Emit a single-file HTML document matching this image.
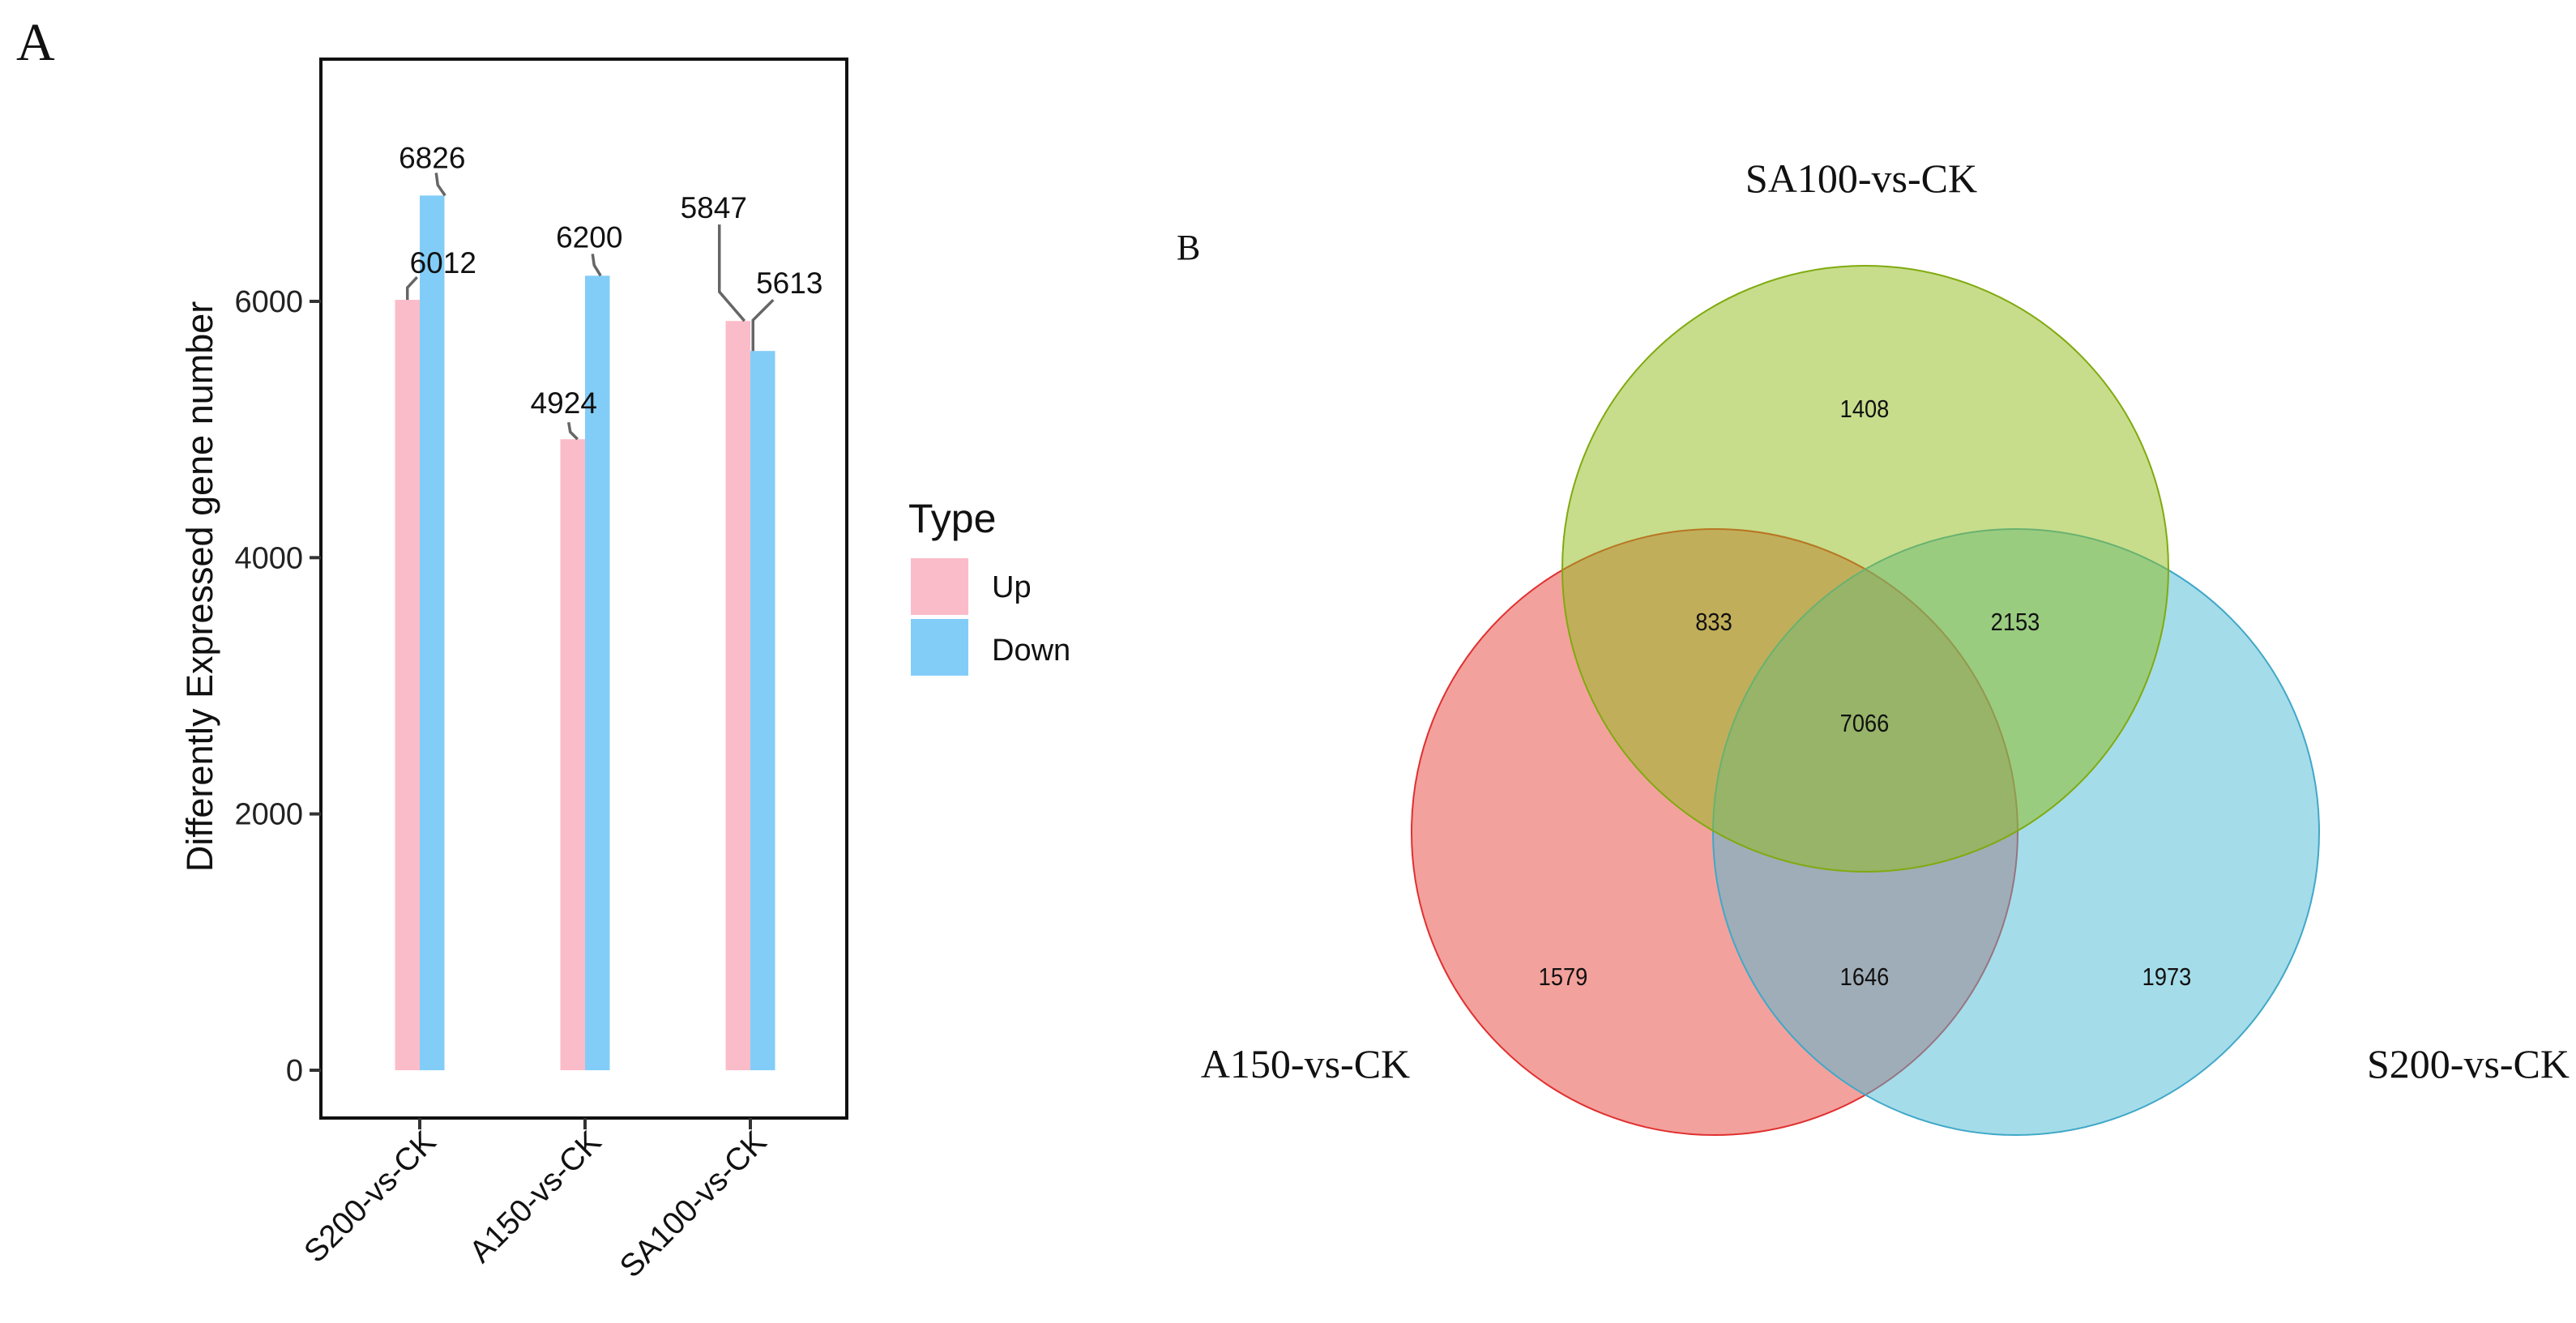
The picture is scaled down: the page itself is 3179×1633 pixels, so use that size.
<!DOCTYPE html>
<html><head><meta charset="utf-8"><style>
html,body{margin:0;padding:0;background:#fff;}
svg{display:block;}
.s{font-family:"Liberation Sans",sans-serif;}
.r{font-family:"Liberation Serif",serif;}
</style></head><body>
<svg id="fig" width="3179" height="1633" viewBox="0 0 3179 1633" xmlns="http://www.w3.org/2000/svg">
<rect width="3179" height="1633" fill="#fff"/>
<text x="20" y="74" class="r" font-size="66" fill="#111">A</text>
<g id="barchart"></g>
<text x="1452" y="320" class="r" font-size="44" fill="#111">B</text>
<g id="venn"></g>
</svg>
<script>
const categories = ["S200-vs-CK","A150-vs-CK","SA100-vs-CK"];
const upValues = [6012, 4924, 5847];
const downValues = [6826, 6200, 5613];
const yTicks = [0, 2000, 4000, 6000];
const vennSets = ["A150-vs-CK","S200-vs-CK","SA100-vs-CK"];
const vennCounts = {a:1579, b:1973, c:1408, ac:833, bc:2153, ab:1646, abc:7066};

const NS="http://www.w3.org/2000/svg";
function mk(tag, attrs, parent, text){
  const e=document.createElementNS(NS,tag);
  for(const k in attrs) e.setAttribute(k,attrs[k]);
  if(text!==undefined) e.textContent=text;
  parent.appendChild(e); return e;
}
const bc=document.getElementById('barchart');
const y0=1321, pxPer=0.15817;
const yS=v=>y0-v*pxPer;
const xS=i=>518+i*204;
const bw=30.5;

// frame
const frame=mk('rect',{x:396,y:73,width:649,height:1307,fill:'none',stroke:'#111','stroke-width':4},bc);



yTicks.forEach(t=>{
  const l=mk('line',{x1:382,x2:396,y1:yS(t),y2:yS(t),stroke:'#333','stroke-width':4},bc);
  
  
  const tx=mk('text',{x:374,y:yS(t)+13,'text-anchor':'end','font-size':38,fill:'#222',class:'s'},bc,String(t));
  
  
});
const yt=mk('text',{x:0,y:0,transform:'translate(262,724) rotate(-90)','text-anchor':'middle','font-size':45,fill:'#111',class:'s'},bc,'Differently Expressed gene number');



// label offsets (text center dx, baseline dy relative to bar top-center) and leader shapes
const upLab=[{dx:44,dy:-33,lead:[[12,-28],[0,-15],[0,0]]},{dx:-11,dy:-32,lead:[[-5,-21],[-3,-9],[6,0]]},{dx:-30,dy:-127,lead:[[-23,-119],[-23,-36],[8,0]]}];
const dnLab=[{dx:0,dy:-34,lead:[[5,-28],[7,-13],[16,0]]},{dx:-10,dy:-35,lead:[[-6,-27],[-4,-13],[4,0]]},{dx:33,dy:-71,lead:[[13,-63],[-12,-38],[-12,0]]}];

categories.forEach((c,i)=>{
  const cx=xS(i);
  const u=mk('rect',{x:cx-bw,y:yS(upValues[i]),width:bw,height:y0-yS(upValues[i]),fill:'#fbbcc9'},bc);
  
  
  const d=mk('rect',{x:cx,y:yS(downValues[i]),width:bw,height:y0-yS(downValues[i]),fill:'#82cdf8'},bc);
  
  
  [[upValues[i],cx-bw/2,upLab[i]],[downValues[i],cx+bw/2,dnLab[i]]].forEach(([v,bx,L])=>{
    const top=yS(v);
    const pts=L.lead.map(p=>(bx+p[0])+','+(top+p[1])).join(' ');
    const pl=mk('polyline',{points:pts,fill:'none',stroke:'#666','stroke-width':3.5},bc);
    
    
    const t=mk('text',{x:bx+L.dx,y:top+L.dy,'text-anchor':'middle','font-size':37,fill:'#111',class:'s'},bc,String(v));
    
    
  });
  const tk=mk('line',{x1:cx,x2:cx,y1:1380,y2:1394,stroke:'#333','stroke-width':4},bc);
  
  
  const xl=mk('text',{x:0,y:0,transform:`translate(${cx+22},${1412}) rotate(-45)`,'text-anchor':'end','font-size':39,fill:'#111',class:'s'},bc,c);
  
  
});

// legend
const lt=mk('text',{x:1121,y:657,'font-size':50,fill:'#111',class:'s'},bc,'Type');


[['Up','#fbbcc9',689,737],['Down','#82cdf8',764,815]].forEach(([n,col,ky,ty])=>{
  const k=mk('rect',{x:1124,y:ky,width:71,height:70,fill:col},bc);
  
  
  const t=mk('text',{x:1224,y:ty,'font-size':38,fill:'#111',class:'s'},bc,n);
  
  
});

// venn
const vn=document.getElementById('venn');
const R=374;
const circles=[[2116,1027,'#e8443a','#e03030','A150'],[2488,1027,'#4cb9d3','#40a8c8','S200'],[2302,702,'#8fbb18','#80aa10','SA100']];
circles.forEach(([x,y,f,s,n])=>{
  const c=mk('circle',{cx:x,cy:y,r:R,fill:f,'fill-opacity':0.5,stroke:s,'stroke-width':2},vn);
  
  
});
const regions=[['c',2301,504],['ac',2115,767],['bc',2487,767],['abc',2301,892],['a',1929,1205],['ab',2301,1205],['b',2674,1205]];
regions.forEach(([k,x,y])=>{
  const t=mk('text',{x:x,y:y+11,'text-anchor':'middle','font-size':31,fill:'#111',class:'s',transform:`translate(${x},0) scale(0.88,1) translate(${-x},0)`},vn,String(vennCounts[k]));
  
  
});
const setPos=[[1611,1330],[3046,1330],[2297,237]];
vennSets.forEach((s,i)=>{
  const t=mk('text',{x:setPos[i][0],y:setPos[i][1],'text-anchor':'middle','font-size':50,fill:'#111',class:'r'},vn,s);
  
  
});
</script>
</body></html>
